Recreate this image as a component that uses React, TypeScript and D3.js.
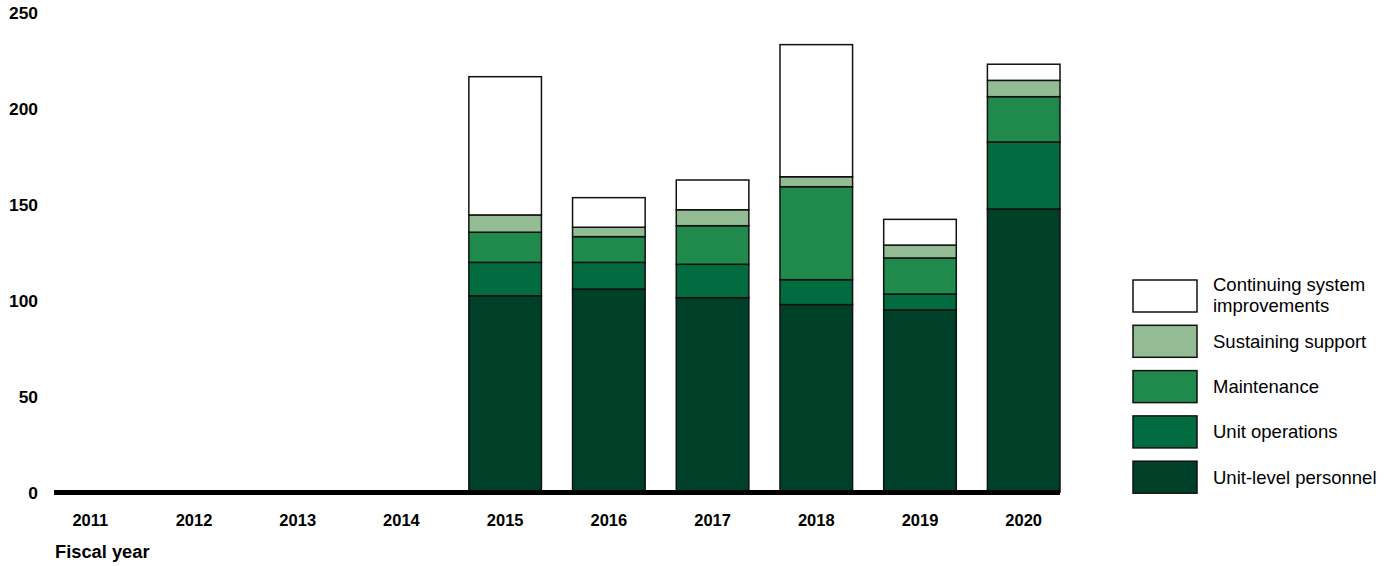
import React from "react";
import * as d3 from "d3";

const years = ["2011", "2012", "2013", "2014", "2015", "2016", "2017", "2018", "2019", "2020"];
const seriesNames = [
  "Unit-level personnel",
  "Unit operations",
  "Maintenance",
  "Sustaining support",
  "Continuing system improvements",
];
const unitLevelPersonnel = [0, 0, 0, 0, 102.2, 105.7, 101.2, 97.6, 94.8, 147.4];
const unitOperations = [0, 0, 0, 0, 17.4, 13.9, 17.4, 13.0, 8.3, 34.9];
const maintenance = [0, 0, 0, 0, 15.7, 13.4, 20.1, 48.4, 18.8, 23.6];
const sustainingSupport = [0, 0, 0, 0, 9.0, 4.9, 8.3, 5.2, 6.7, 8.5];
const continuingImprovements = [0, 0, 0, 0, 72.0, 15.4, 15.5, 68.8, 13.4, 8.4];
const yTicks = [0, 50, 100, 150, 200, 250];
const colors = ["#004028", "#036b40", "#1f8a4c", "#94bc94", "#ffffff"];

const legendOrder = [4, 3, 2, 1, 0];
const legendLabels: Record<number, string[]> = {
  4: ["Continuing system", "improvements"],
  3: ["Sustaining support"],
  2: ["Maintenance"],
  1: ["Unit operations"],
  0: ["Unit-level personnel"],
};

export default function App() {
  const W = 1391;
  const H = 566;
  const x = d3.scaleBand<string>().domain(years).range([54, 1060]).paddingInner(0.3).paddingOuter(0);
  const y = d3.scaleLinear().domain([0, 250]).range([492, 12]);

  const table = years.map((yr, i) => ({
    year: yr,
    s0: unitLevelPersonnel[i],
    s1: unitOperations[i],
    s2: maintenance[i],
    s3: sustainingSupport[i],
    s4: continuingImprovements[i],
  }));
  const stack = d3.stack<any>().keys(["s0", "s1", "s2", "s3", "s4"]);
  const stacked = stack(table);
  const font = "Arial, 'Liberation Sans', sans-serif";

  return (
    <svg width={W} height={H} style={{ position: "absolute", left: 0, top: 0 }} fontFamily={font}>
      <rect width={W} height={H} fill="#fff" />
      {yTicks.map((t) => (
        <text key={t} x={38} y={y(t) + 6.8} textAnchor="end" fontSize={17.4} fontWeight="bold" fill="#000">
          {t}
        </text>
      ))}
      {stacked.map((layer, li) => (
        <g key={li}>
          {layer.map((d, di) =>
            d[1] - d[0] > 0 ? (
              <rect
                key={di}
                x={x(years[di])!}
                y={y(d[1])}
                width={x.bandwidth()}
                height={y(d[0]) - y(d[1])}
                fill={colors[li]}
                stroke="#111"
                strokeWidth={1.5}
              />
            ) : null
          )}
        </g>
      ))}
      <line x1={54} x2={1060} y1={y(0) + 0.5} y2={y(0) + 0.5} stroke="#000" strokeWidth={5} />
      {years.map((yr) => (
        <text key={yr} x={x(yr)! + x.bandwidth() / 2} y={526} textAnchor="middle" fontSize={16.5} fontWeight="bold" fill="#000">
          {yr}
        </text>
      ))}
      <text x={55} y={557.5} fontSize={18.3} fontWeight="bold" fill="#000">
        Fiscal year
      </text>
      {legendOrder.map((si, k) => {
        const by = 280 + k * 45.3;
        const lines = legendLabels[si];
        return (
          <g key={si}>
            <rect x={1133} y={by} width={64} height={32} fill={colors[si]} stroke="#111" strokeWidth={1.5} />
            {lines.map((ln, j) => (
              <text
                key={j}
                x={1213}
                y={lines.length === 1 ? by + 16 : by + 5 + j * 21}
                dy="0.35em"
                fontSize={18.5}
                fill="#000"
              >
                {ln}
              </text>
            ))}
          </g>
        );
      })}
    </svg>
  );
}
